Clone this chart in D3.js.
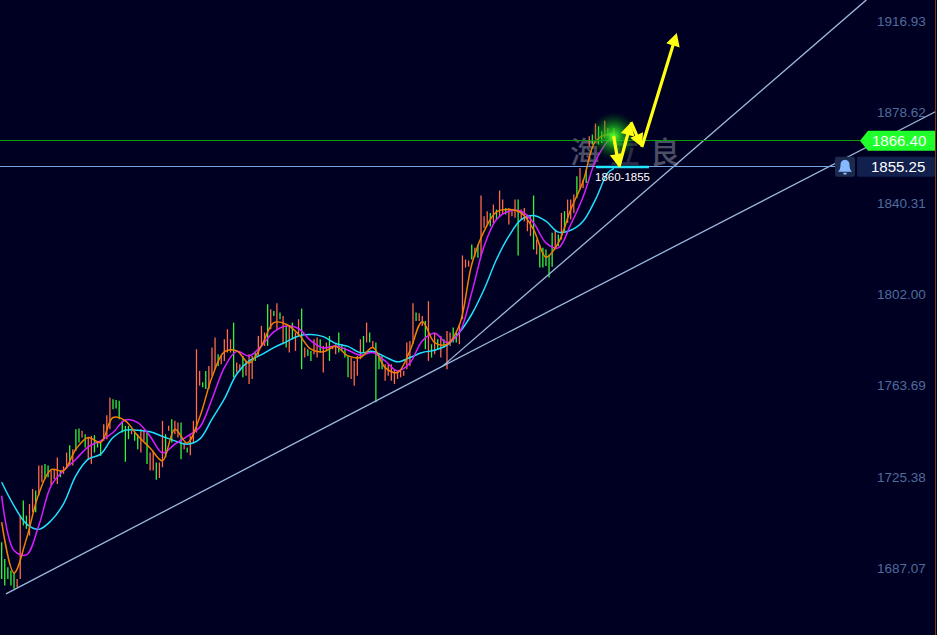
<!DOCTYPE html>
<html><head><meta charset="utf-8">
<script src="https://d3js.org/d3.v7.min.js"></script>
<style>html,body{margin:0;padding:0;background:#000022;overflow:hidden}svg{display:block}</style>
</head><body><svg id="c" width="937" height="635"></svg>
<script>
const tickLabels=[1916.93,1878.62,1840.31,1802.00,1763.69,1725.38,1687.07];
const highs=[1697.9,1690.9,1687.4,1686.0,1685.3,1682.5,1709.1,1715.4,1709.1,1714.0,1720.3,1719.6,1730.1,1730.3,1730.8,1730.1,1728.0,1728.7,1733.5,1728.0,1729.8,1735.6,1738.7,1737.0,1745.4,1745.7,1744.7,1743.3,1741.9,1742.6,1742.9,1740.5,1739.8,1747.5,1751.3,1758.7,1758.0,1757.7,1757.3,1748.9,1746.8,1746.8,1744.7,1744.0,1743.3,1745.4,1744.7,1744.0,1735.6,1736.3,1731.4,1731.4,1748.9,1743.3,1746.8,1749.6,1748.9,1748.2,1748.2,1739.8,1737.7,1742.6,1748.9,1779.0,1769.9,1765.1,1769.9,1772.0,1779.7,1783.9,1776.9,1776.2,1783.2,1787.4,1783.2,1790.2,1773.4,1772.7,1776.2,1774.1,1776.9,1776.2,1777.6,1784.6,1788.8,1786.0,1797.9,1795.8,1795.1,1798.3,1794.4,1793.0,1788.8,1788.8,1790.2,1786.0,1791.6,1796.1,1779.7,1779.0,1778.3,1783.2,1783.9,1783.2,1780.4,1781.8,1784.6,1780.4,1781.1,1786.0,1781.1,1779.7,1776.2,1775.5,1774.1,1776.2,1783.2,1784.6,1790.2,1786.0,1782.5,1781.8,1776.9,1776.2,1772.7,1772.7,1772.7,1770.6,1769.9,1769.9,1769.9,1781.8,1782.5,1798.3,1794.4,1794.1,1793.0,1790.9,1799.2,1781.1,1786.0,1783.2,1784.6,1783.2,1786.7,1786.0,1788.1,1786.0,1789.5,1818.4,1816.7,1816.3,1823.0,1821.6,1823.0,1843.6,1834.9,1837.0,1836.3,1839.8,1837.7,1845.7,1841.9,1838.4,1838.4,1837.0,1841.9,1841.9,1837.7,1838.4,1835.6,1834.9,1843.6,1825.1,1823.0,1821.6,1820.9,1818.8,1827.9,1829.3,1827.2,1836.3,1837.0,1841.9,1841.9,1844.0,1851.7,1855.2,1850.3,1854.5,1868.5,1869.2,1873.8,1872.7,1870.6,1875.0,1872.0,1869.9,1872.0];
const lows=[1682.5,1679.7,1682.5,1679.7,1678.3,1679.0,1682.5,1704.9,1703.5,1700.7,1710.5,1710.5,1717.5,1723.1,1724.5,1725.2,1721.7,1724.5,1722.4,1725.2,1726.6,1728.7,1730.1,1730.1,1736.3,1739.8,1741.9,1737.7,1732.8,1730.8,1735.6,1737.7,1734.2,1740.5,1741.2,1745.4,1753.8,1754.1,1749.6,1744.0,1731.7,1741.2,1743.3,1740.5,1737.0,1735.6,1740.5,1730.8,1728.0,1728.0,1724.2,1724.9,1729.4,1733.5,1744.7,1739.8,1743.3,1741.9,1732.8,1737.0,1735.6,1734.5,1739.8,1744.0,1763.7,1763.0,1762.3,1762.3,1767.9,1770.6,1772.0,1772.7,1774.1,1777.6,1777.6,1767.2,1769.2,1769.9,1767.2,1767.9,1764.4,1766.5,1774.1,1776.2,1780.4,1780.4,1780.4,1787.4,1793.0,1787.4,1791.6,1781.1,1779.7,1777.6,1783.2,1778.3,1784.6,1770.6,1775.5,1776.2,1774.1,1776.9,1775.5,1777.6,1769.2,1778.3,1774.1,1779.0,1776.9,1777.6,1778.3,1775.5,1767.2,1766.5,1763.7,1767.9,1774.8,1777.6,1781.8,1781.8,1779.7,1756.7,1770.6,1770.6,1765.8,1767.9,1765.8,1764.4,1766.5,1767.2,1767.9,1770.6,1772.0,1781.1,1790.9,1790.9,1788.8,1779.0,1774.1,1775.5,1776.9,1779.0,1775.5,1779.7,1770.6,1780.4,1781.8,1781.8,1781.1,1791.6,1813.3,1813.7,1816.7,1817.9,1817.4,1818.1,1830.0,1831.4,1830.7,1832.1,1833.5,1834.9,1835.6,1835.6,1831.4,1834.9,1834.2,1818.4,1833.5,1832.8,1828.6,1826.5,1820.9,1818.8,1813.3,1813.3,1814.0,1809.1,1813.7,1820.9,1822.3,1825.1,1828.6,1832.1,1833.5,1836.3,1842.6,1846.1,1846.8,1848.9,1864.3,1865.0,1867.1,1865.0,1865.7,1867.8,1868.5,1867.1,1865.7];
const dirs="gggggrrggrrgrrggrrrgrrgrggrgrrgggrrrggggggrggrrgrrgrrgrgrrgrgrrrrggrrrgrrrrgrrgrrrgrrrgrgrgrgrgrrgrggrrgrrgrrggggrrrrgrgrgggrrrrrrrrrrgrrgrgrgrgrrggrrrrgrgrrrgrgrrgrrrgrrrrgrgggggrgrgrrrgrrgrgrggrrgrg".split("");
const maIndex=[0,4,8,12,16,20,24,28,32,36,40,44,48,52,56,60,64,68,72,76,80,84,88,92,96,100,104,108,112,116,120,124,128,132,136,140,144,148,152,156,160,164,168,172,176,180,184,188,192,196,198];
const maFast=[1706.3,1685.0,1699.3,1718.2,1728.4,1728.0,1737.0,1741.9,1739.8,1750.3,1748.9,1742.6,1737.5,1732.1,1745.4,1739.6,1750.3,1767.2,1777.9,1778.3,1773.2,1780.4,1790.2,1789.5,1785.3,1779.0,1777.9,1780.2,1776.2,1775.5,1779.7,1771.3,1769.2,1778.3,1790.6,1781.8,1781.1,1789.1,1814.6,1828.6,1836.7,1837.7,1836.3,1829.3,1817.7,1823.7,1837.7,1849.5,1866.4,1869.2,1868.6];
const maMid=[1717.5,1694.4,1692.6,1704.9,1721.7,1728.0,1732.8,1738.0,1740.5,1744.0,1749.3,1748.2,1742.4,1735.4,1739.1,1742.4,1746.1,1758.0,1771.3,1778.1,1776.2,1780.4,1786.3,1788.8,1787.7,1782.5,1779.5,1780.4,1778.6,1776.5,1777.6,1774.1,1769.9,1773.2,1782.5,1785.7,1781.8,1786.0,1802.8,1822.3,1833.5,1837.0,1837.0,1832.1,1823.7,1821.6,1831.4,1843.0,1858.0,1866.4,1868.5];
const maSlow=[1723.1,1713.2,1705.6,1703.3,1707.0,1714.0,1725.9,1732.8,1734.9,1741.9,1745.0,1745.0,1744.3,1742.4,1740.5,1739.1,1741.2,1749.6,1758.1,1768.6,1774.1,1776.7,1779.7,1782.1,1784.6,1785.2,1784.3,1781.4,1780.2,1777.5,1778.1,1775.8,1773.7,1775.5,1777.6,1778.6,1780.7,1786.0,1793.7,1804.2,1816.7,1826.5,1833.5,1835.2,1832.8,1828.2,1829.0,1832.8,1841.9,1853.1,1855.0];
const trendA={i:[1.4,142.6,301.9],p:[1676.2,1771.9,1878.8]};
const trendB={i:[142.6,279.6],p:[1771.9,1925.8]};
const priceLast=1866.40, priceAlert=1855.25, alertLinePrice=1855.85;
const arrowI=[197.9,199.6,203.5,207.0,218.3];
const arrowP=[1868.5,1855.6,1874.4,1864.0,1911.9];
const zoneI=[192.2,209.3], zoneP=1855.6;
const zoneLabel="1860-1855";
const watermark=["海","立","良"];

const W=937,H=635;
const svg=d3.select("#c");
const x=d3.scaleLinear().domain([0,198]).range([1.67,614]);
const y=d3.scaleLinear().domain([1916.93,1687.07]).range([21,568]);
svg.append("rect").attr("width",W).attr("height",H).attr("fill","#000022");
const defs=svg.append("defs");
const rg=defs.append("radialGradient").attr("id","glow");
rg.append("stop").attr("offset","0").attr("stop-color","#5cff2a").attr("stop-opacity",1);
rg.append("stop").attr("offset",".35").attr("stop-color","#1fc81f").attr("stop-opacity",.75);
rg.append("stop").attr("offset","1").attr("stop-color","#0a6a0a").attr("stop-opacity",0);

// watermark
svg.append("g").selectAll("text").data(watermark).join("text")
 .attr("x",(d,i)=>[585,625,665][i]).attr("y",163).attr("text-anchor","middle")
 .attr("font-family","'Noto Sans CJK SC'").attr("font-weight",500).attr("font-size",30)
 .attr("fill","#8a8f9e").attr("opacity",(d,i)=>i==1?.3:.55).text(d=>d);

// wicks
const colour={r:"#ff6a48",g:"#33f533"};
svg.append("g").selectAll("line").data(highs).join("line")
 .attr("x1",(d,i)=>x(i)).attr("x2",(d,i)=>x(i))
 .attr("y1",d=>y(d)).attr("y2",(d,i)=>y(lows[i]))
 .attr("stroke",(d,i)=>colour[dirs[i]]).attr("stroke-width",1.3);

// averages
const ln=a=>d3.line().x((d,i)=>x(maIndex[i])).y(d=>y(d)).curve(d3.curveCatmullRom.alpha(.5))(a);
[[maSlow,"#1fe0ff"],[maMid,"#d81eff"],[maFast,"#f08000"]].forEach(([a,c])=>{
 svg.append("path").attr("d",ln(a)).attr("fill","none").attr("stroke",c).attr("stroke-width",1.5);
});

// trend lines
[trendA,trendB].forEach(t=>{
 svg.append("path").attr("d",d3.line()(t.i.map((v,k)=>[x(v),y(t.p[k])])))
  .attr("fill","none").attr("stroke","#9db8dc").attr("stroke-width",1.3);
});

// price lines
const snap=v=>Math.floor(v)+.5;
svg.append("line").attr("x1",0).attr("x2",862).attr("y1",snap(y(priceLast))-1).attr("y2",snap(y(priceLast))-1).attr("stroke","#0c9a0c").attr("stroke-width",1);
svg.append("line").attr("x1",0).attr("x2",836).attr("y1",snap(y(alertLinePrice))).attr("y2",snap(y(alertLinePrice))).attr("stroke","#7aa4e0").attr("stroke-width",1);

// glow, zone, arrows
svg.append("circle").attr("cx",x(arrowI[0])).attr("cy",y(arrowP[0])).attr("r",24).attr("fill","url(#glow)");
svg.append("line").attr("x1",x(zoneI[0])).attr("x2",x(zoneI[1])).attr("y1",y(zoneP)).attr("y2",y(zoneP)).attr("stroke","#22e6ff").attr("stroke-width",2.4);
const ag=svg.append("g").attr("fill","#ffff14").attr("stroke","none");
d3.pairs(arrowI.map((v,k)=>[x(v),y(arrowP[k])])).forEach(([a,b])=>{
 const ang=Math.atan2(b[1]-a[1],b[0]-a[0]),cs=Math.cos(ang),sn=Math.sin(ang);
 const hl=13,hw=7,sw=1.6;
 const bx=b[0]-cs*hl,by=b[1]-sn*hl;
 ag.append("polygon").attr("points",[
  [a[0]-sn*sw,a[1]+cs*sw],[bx-sn*sw,by+cs*sw],[bx-sn*hw,by+cs*hw],b,
  [bx+sn*hw,by-cs*hw],[bx+sn*sw,by-cs*sw],[a[0]+sn*sw,a[1]-cs*sw]].join(" "));
});
svg.append("text").attr("x",x((zoneI[0]+zoneI[1])/2)).attr("y",y(zoneP)+14).attr("text-anchor","middle")
 .attr("font-family","'Liberation Sans'").attr("font-size",11.5).attr("fill","#ffffff").text(zoneLabel);

// axis
const ax=svg.append("g").attr("transform","translate(877,0)")
 .call(d3.axisRight(y).tickValues(tickLabels).tickSize(0).tickPadding(0).tickFormat(d3.format(".2f")));
ax.select(".domain").remove();
ax.selectAll("text").attr("font-family","'Liberation Sans'").attr("font-size",13.5).attr("fill","#4f6c9e");

// tags
const ly=y(priceLast)-.5;
svg.append("path").attr("d",d3.line()([[860,ly],[868,ly-10],[935,ly-10],[935,ly+10],[868,ly+10]])+"Z").attr("fill","#1fff2a");
svg.append("text").attr("x",872).attr("y",ly+5.5).attr("font-family","'Liberation Sans'").attr("font-size",15).attr("fill","#ffffff").text(priceLast.toFixed(2));
const ay=y(alertLinePrice)+.5;
svg.append("rect").attr("x",857).attr("y",ay-10).attr("width",78).attr("height",20).attr("rx",1).attr("fill","#11204d");
svg.append("text").attr("x",871).attr("y",ay+5.5).attr("font-family","'Liberation Sans'").attr("font-size",15).attr("fill","#ffffff").text(priceAlert.toFixed(2));
svg.append("rect").attr("x",835).attr("y",ay-10).attr("width",20).attr("height",20).attr("rx",2).attr("fill","#1c2a50");
svg.append("path").attr("transform",`translate(845,${ay})`)
 .attr("d","M-7,5 Q-4.5,3 -4.5,-2 Q-4.5,-6.5 0,-7 Q4.5,-6.5 4.5,-2 Q4.5,3 7,5 Z M-2,6 A2,2 0 0 0 2,6 Z").attr("fill","#86b8ff");
svg.append("line").attr("x1",935.5).attr("x2",935.5).attr("y1",0).attr("y2",H).attr("stroke","#7a3c10").attr("stroke-width",1);
</script></body></html>
